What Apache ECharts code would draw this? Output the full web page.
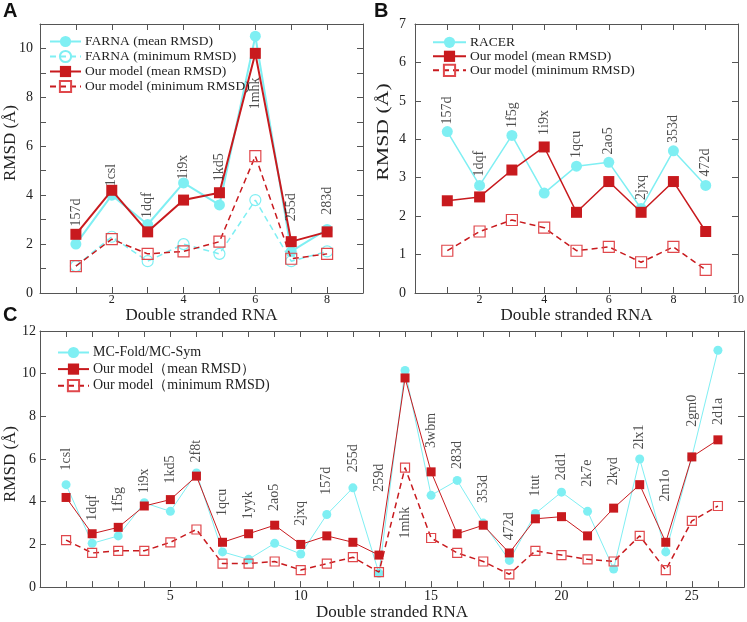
<!DOCTYPE html>
<html><head><meta charset="utf-8">
<script src="https://cdn.jsdelivr.net/npm/echarts@6/dist/echarts.min.js"></script>
<style>html,body{margin:0;padding:0;background:#fff}#c{width:747px;height:622px}</style>
</head><body><div id="c"></div>
<script>
// ---------- Panel A ----------
const namesA = ['157d','1csl','1dqf','1i9x','1kd5','1mhk','255d','283d'];
const farnaMean = [2.0, 4.0, 2.8, 4.5, 3.6, 10.5, 1.7, 2.6];
const farnaMin  = [1.1, 2.3, 1.3, 2.0, 1.6, 3.8, 1.3, 1.7];
const oursMeanA = [2.4, 4.2, 2.5, 3.8, 4.1, 9.8, 2.1, 2.5];
const oursMinA  = [1.1, 2.2, 1.6, 1.7, 2.1, 5.6, 1.4, 1.6];
const labelBaseA = [2.7, 4.34, 3.05, 4.62, 4.55, 7.49, 2.91, 3.18];
// ---------- Panel B ----------
const namesB = ['157d','1dqf','1f5g','1i9x','1qcu','2ao5','2jxq','353d','472d'];
const racer     = [4.2, 2.8, 4.1, 2.6, 3.3, 3.4, 2.2, 3.7, 2.8];
const oursMeanB = [2.4, 2.5, 3.2, 3.8, 2.1, 2.9, 2.1, 2.9, 1.6];
const oursMinB  = [1.1, 1.6, 1.9, 1.7, 1.1, 1.2, 0.8, 1.2, 0.6];
const labelBaseB = [4.37, 3.02, 4.28, 4.1, 3.5, 3.59, 2.41, 3.89, 3.02];
// ---------- Panel C ----------
const namesC = ['1csl','1dqf','1f5g','1i9x','1kd5','2f8t','1qcu','1yyk','2ao5','2jxq','157d','255d','259d',
                '1mhk','3wbm','283d','353d','472d','1tut','2dd1','2k7e','2kyd','2lx1','2m1o','2gm0','2d1a'];
const mcFold    = [4.8, 2.05, 2.4, 3.95, 3.55, 5.35, 1.65, 1.3, 2.05, 1.55, 3.4, 4.65, 0.65,
                   10.15, 4.3, 5.0, 3.0, 1.25, 3.45, 4.45, 3.55, 0.85, 6.0, 1.65, 6.1, 11.1];
const oursMeanC = [4.2, 2.5, 2.8, 3.8, 4.1, 5.2, 2.1, 2.5, 2.9, 2.0, 2.4, 2.1, 1.5,
                   9.8, 5.4, 2.5, 2.9, 1.6, 3.2, 3.3, 2.4, 3.7, 4.8, 2.1, 6.1, 6.9];
const oursMinC  = [2.2, 1.6, 1.7, 1.7, 2.1, 2.7, 1.1, 1.1, 1.2, 0.8, 1.1, 1.4, 0.7,
                   5.6, 2.3, 1.6, 1.2, 0.6, 1.7, 1.5, 1.3, 1.2, 2.4, 0.8, 3.1, 3.8];
const labelBaseC = [5.44, 3.08, 3.46, 4.37, 4.83, 5.82, 3.31, 3.16, 3.54, 2.85, 4.30, 5.36, 4.45,
                    2.25, 6.5, 5.51, 3.92, 2.17, 4.22, 4.98, 4.68, 4.75, 6.43, 3.99, 7.49, 7.57];

const SERIF = '"Liberation Serif","Times New Roman",serif';
const SANS = '"Liberation Sans",Arial,sans-serif';
const CYAN = '#7FEFF3', RED = '#C81A1E', RED_L = '#E0484C', AX = '#555', TXT = '#222';

const chart = echarts.init(document.getElementById('c'), null, {renderer: 'canvas'});
const pairs = vals => vals.map((v, i) => [i + 1, v]);

function mkX(grid, min, max, interval, pos, fmt, fs, margin, name, nameGap) {
  return {
    type: 'value', gridIndex: grid, position: pos, min, max, interval,
    axisLine: {show: true, onZero: false, lineStyle: {color: AX, width: 1}},
    axisTick: {show: true, inside: true, length: 6, lineStyle: {color: AX}},
    splitLine: {show: false},
    axisLabel: fmt ? {show: true, formatter: fmt, color: TXT, fontFamily: SERIF, fontSize: fs, margin} : {show: false},
    name: name || '', nameLocation: 'middle', nameGap: nameGap || 0,
    nameTextStyle: {fontFamily: SERIF, fontSize: 17, color: TXT}
  };
}
function mkY(grid, min, max, interval, pos, fmt, fs, margin) {
  return {
    type: 'value', gridIndex: grid, position: pos, min, max, interval,
    axisLine: {show: true, onZero: false, lineStyle: {color: AX, width: 1}},
    axisTick: {show: true, inside: true, length: 6, lineStyle: {color: AX}},
    splitLine: {show: false},
    axisLabel: fmt ? {show: true, formatter: fmt, color: TXT, fontFamily: SERIF, fontSize: fs, margin} : {show: false}
  };
}
const fA = v => (v > 0 && v < 9 && v % 2 === 0) ? String(v) : '';
const fB = v => (v > 0 && v % 2 === 0) ? String(v) : '';
const fC = v => (v > 0 && v % 5 === 0 && v < 27) ? String(v) : '';
const fYA = v => (v % 2 === 0 && v <= 10) ? String(v) : '';
const fY = v => String(v);

function lineS(name, xi, vals, o) {
  return Object.assign({
    name, type: 'line', xAxisIndex: xi, yAxisIndex: xi, data: pairs(vals),
    animation: false, silent: true
  }, o);
}
function labelS(xi, names, base, fs) {
  return {
    type: 'scatter', xAxisIndex: xi, yAxisIndex: xi, symbolSize: 1, silent: true, animation: false, z: 20,
    itemStyle: {color: 'rgba(0,0,0,0)'},
    data: names.map((n, i) => ({name: n, value: [i + 1, base[i]]})),
    label: {show: true, position: 'top', distance: 0, rotate: 90, align: 'left', verticalAlign: 'middle',
            formatter: '{b}', fontFamily: SERIF, fontSize: fs, color: TXT}
  };
}
const filled = (sym, col, size) => ({symbol: sym, symbolSize: size, itemStyle: {color: col}});
const hollow = (sym, col, size) => ({symbol: sym, symbolSize: size,
  itemStyle: {color: 'rgba(255,255,255,0)', borderColor: col, borderWidth: 1.2}});

const legendBase = {
  orient: 'vertical', padding: 0, itemWidth: 31, itemHeight: 14, itemGap: 1, selectedMode: false,
  textStyle: {fontFamily: SERIF, fontSize: 13.5, color: TXT, padding: [0, 0, 0, -1]}
};

const option = {
  backgroundColor: '#fff',
  animation: false,
  grid: [
    {left: 40, top: 24, width: 323, height: 269},
    {left: 415, top: 24, width: 328, height: 269},
    {left: 40, top: 331, width: 704, height: 263}
  ],
  xAxis: [
    mkX(0, 0, 9, 1, 'bottom', fA, 12, 1, 'Double stranded RNA', 10),
    mkX(1, 0, 10, 1, 'bottom', fB, 12, 1, 'Double stranded RNA', 10),
    mkX(2, 0, 27, 1, 'bottom', fC, 14, 2, 'Double stranded RNA', 11),
    mkX(0, 0, 9, 1, 'top', null),
    mkX(1, 0, 10, 1, 'top', null),
    mkX(2, 0, 27, 1, 'top', null)
  ],
  yAxis: [
    mkY(0, 0, 11, 1, 'left', fYA, 14, 7),
    mkY(1, 0, 7, 1, 'left', fY, 14, 9),
    mkY(2, 0, 12, 2, 'left', fY, 14, 4),
    mkY(0, 0, 11, 1, 'right', null),
    mkY(1, 0, 7, 1, 'right', null),
    mkY(2, 0, 12, 2, 'right', null)
  ],
  legend: [
    Object.assign({}, legendBase, {left: 49, top: 34.5,
      data: ['FARNA (mean RMSD)', 'FARNA (minimum RMSD)', 'Our model (mean RMSD)', 'Our model (minimum RMSD)']}),
    Object.assign({}, legendBase, {left: 432, top: 35.3, itemWidth: 33, itemGap: 0,
      data: ['RACER', 'Our model (mean RMSD) ', 'Our model (minimum RMSD) ']}),
    Object.assign({}, legendBase, {left: 57, top: 345.5, itemGap: 2.6,
      textStyle: {fontFamily: SERIF, fontSize: 14, color: TXT, padding: [0, 0, 0, -1]},
      data: ['MC-Fold/MC-Sym', 'Our model（mean RMSD）', 'Our model（minimum RMSD)']})
  ],
  series: [
    // A
    lineS('FARNA (mean RMSD)', 0, farnaMean, Object.assign(filled('circle', CYAN, 11), {lineStyle: {color: CYAN, width: 2}, z: 2})),
    lineS('FARNA (minimum RMSD)', 0, farnaMin, Object.assign(hollow('circle', CYAN, 11), {lineStyle: {color: CYAN, width: 1.5, type: [6, 4]}, z: 2})),
    lineS('Our model (mean RMSD)', 0, oursMeanA, Object.assign(filled('rect', RED, 11), {lineStyle: {color: RED, width: 2}, z: 3})),
    lineS('Our model (minimum RMSD)', 0, oursMinA, Object.assign(hollow('rect', RED_L, 11), {lineStyle: {color: RED, width: 1.5, type: [6, 4]}, z: 3})),
    labelS(0, namesA, labelBaseA, 14),
    // B
    lineS('RACER', 1, racer, Object.assign(filled('circle', CYAN, 11), {lineStyle: {color: CYAN, width: 1.5}, z: 2})),
    lineS('Our model (mean RMSD) ', 1, oursMeanB, Object.assign(filled('rect', RED, 11), {lineStyle: {color: RED, width: 1.5}, z: 3})),
    lineS('Our model (minimum RMSD) ', 1, oursMinB, Object.assign(hollow('rect', RED_L, 11), {lineStyle: {color: RED, width: 1.5, type: [6, 4]}, z: 3})),
    labelS(1, namesB, labelBaseB, 14),
    // C
    lineS('MC-Fold/MC-Sym', 2, mcFold, Object.assign(filled('circle', CYAN, 9), {lineStyle: {color: CYAN, width: 1}, z: 2})),
    lineS('Our model（mean RMSD）', 2, oursMeanC, Object.assign(filled('rect', RED, 9), {lineStyle: {color: RED, width: 1}, z: 3})),
    lineS('Our model（minimum RMSD)', 2, oursMinC, Object.assign(hollow('rect', RED_L, 9), {lineStyle: {color: RED, width: 1.5, type: [6, 4]}, z: 3})),
    labelS(2, namesC, labelBaseC, 14)
  ],
  graphic: [
    {type: 'text', left: 3, top: 1, style: {text: 'A', font: 'bold 20px ' + SANS, fill: '#111'}},
    {type: 'text', left: 374, top: 1, style: {text: 'B', font: 'bold 20px ' + SANS, fill: '#111'}},
    {type: 'text', left: 3, top: 305, style: {text: 'C', font: 'bold 20px ' + SANS, fill: '#111'}},
    {type: 'text', x: 11, y: 143, rotation: Math.PI / 2,
      style: {text: 'RMSD (Å)', font: '17px ' + SERIF, fill: TXT, textAlign: 'center', textVerticalAlign: 'middle'}},
    {type: 'text', x: 384, y: 132, rotation: Math.PI / 2, scaleX: 1.28,
      style: {text: 'RMSD (Å)', font: '17px ' + SERIF, fill: TXT, textAlign: 'center', textVerticalAlign: 'middle'}},
    {type: 'text', x: 11, y: 464, rotation: Math.PI / 2,
      style: {text: 'RMSD (Å)', font: '17px ' + SERIF, fill: TXT, textAlign: 'center', textVerticalAlign: 'middle'}}
  ]
};
chart.setOption(option);
</script></body></html>
